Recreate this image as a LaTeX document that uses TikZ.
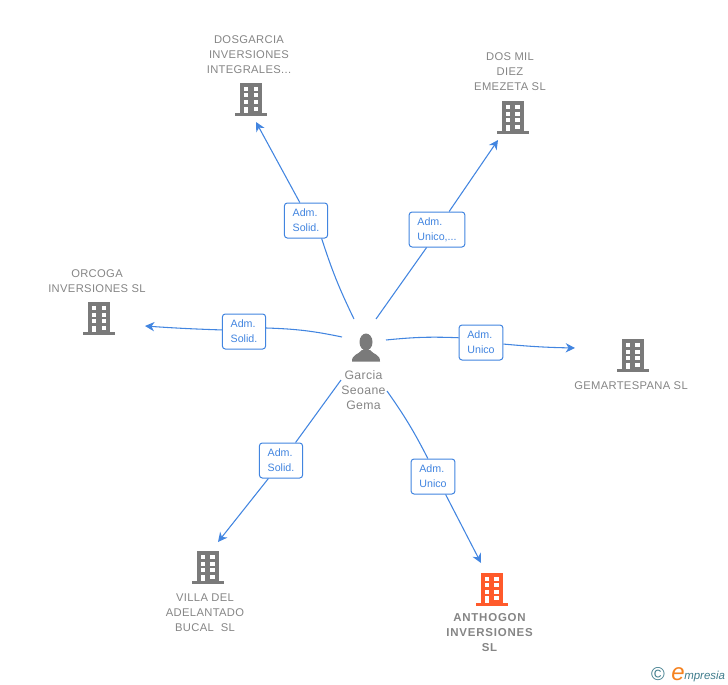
\documentclass[tikz,border=0pt]{standalone}
\usepackage{fontspec}
\setmainfont{Liberation Sans}
\usetikzlibrary{arrows.meta}
\definecolor{linkblue}{HTML}{4285E0}
\definecolor{iconGray}{HTML}{7A7A7A}
\definecolor{textGray}{HTML}{858585}
\definecolor{iconOrange}{HTML}{FF5A2B}
\definecolor{logoTeal}{HTML}{3F7C8C}
\definecolor{logoOrange}{HTML}{F58220}
\tikzset{
  building/.pic={
    \fill[pic actions] (-10.5,-17) rectangle (11.5,13);
    \fill[pic actions] (-15.5,13) rectangle (16.5,16);
    \foreach \rowy in {-13,-6.5,0}{
      \fill[white] (-6.5,\rowy) rectangle (-2.5,\rowy+4);
      \fill[white] (3,\rowy) rectangle (7.5,\rowy+4);
    }
    \fill[white] (-6.5,6.5) rectangle (-2.5,13);
    \fill[white] (3,6.5) rectangle (7.5,10.5);
  }
}
\begin{document}
\begin{tikzpicture}[x=0.75pt,y=-0.75pt,
  company/.style={align=center,text=textGray,inner sep=0pt,font=\fontsize{8.4}{11.25}\selectfont\addfontfeatures{LetterSpace=3}},
  companyB/.style={company,font=\fontsize{8.6}{11.25}\selectfont\bfseries\addfontfeatures{LetterSpace=7}},
  personname/.style={company,font=\fontsize{9.2}{11.25}\selectfont\addfontfeatures{LetterSpace=3}},
  role/.style={draw=linkblue,fill=white,rounded corners=2.2pt,line width=0.75pt,text=linkblue,align=left,inner xsep=6.2pt,inner ysep=0pt,minimum height=26.25pt,font=\fontsize{8}{11.25}\selectfont},
  link/.style={draw=linkblue,line width=0.8pt},
  arrowlink/.style={link,-{Stealth[length=7pt,width=7pt,inset=2.2pt]}}]
\useasboundingbox (0,0) rectangle (728,685);

% person
\fill[iconGray] (366,342) ellipse (6.5 and 8.5);
\fill[iconGray] (352,361.5) .. controls (352,354) and (358,355) .. (362,350) -- (370,350) .. controls (374,355) and (380,354) .. (380,361.5) -- cycle;
\node[personname] (person) at (363.5,390) {Garcia\\Seoane\\Gema};

% companies
\pic[iconGray] at (250.5,100) {building};
\node[company] (dosgarcia) at (249,54.5) {DOSGARCIA\\INVERSIONES\\INTEGRALES...};
\pic[iconGray] at (512,118) {building};
\node[company] (dosmil) at (510,72) {DOS MIL\\DIEZ\\EMEZETA SL};
\pic[iconGray] at (632,356) {building};
\node[company] (gemartespana) at (631,386) {GEMARTESPANA SL};
\pic[iconGray] at (98.5,319) {building};
\node[company] (orcoga) at (97,281) {ORCOGA\\INVERSIONES SL};
\pic[iconGray] at (207,568) {building};
\node[company] (villa) at (205,612.5) {VILLA DEL\\ADELANTADO\\BUCAL\ \ SL};
\pic[iconOrange] at (491,589.5) {building};
\node[companyB] (anthogon) at (489.5,632.5) {ANTHOGON\\INVERSIONES\\SL};

% ends of the connectors
\coordinate (p1) at (354,319);
\coordinate (p2) at (376,319);
\coordinate (p3) at (386,340);
\coordinate (p4) at (387,391);
\coordinate (p5) at (341,380);
\coordinate (p6) at (342,337);
\coordinate (c1) at (256,122);
\coordinate (c2) at (498,140);
\coordinate (c3) at (575,348);
\coordinate (c4) at (481,563);
\coordinate (c5) at (218,542);
\coordinate (c6) at (145,326);

% roles
\node[role] (r1) at (306,220.5) {Adm.\\Solid.};
\node[role] (r2) at (437,229.5) {Adm.\\Unico,...};
\node[role] (r3) at (481,342.5) {Adm.\\Unico};
\node[role] (r4) at (433,476.5) {Adm.\\Unico};
\node[role] (r5) at (281,460.5) {Adm.\\Solid.};
\node[role] (r6) at (244,331.5) {Adm.\\Solid.};

\draw[link] (p1) to[bend left=4] (r1.-49);
\draw[arrowlink] (r1.109) -- (c1);
\draw[link] (p2) -- (r2.240);
\draw[arrowlink] (r2.56) -- (c2);
\draw[link] (p3) to[bend left=4] (r3.168);
\draw[arrowlink] (r3.-4) to[bend right=2] (c3);
\draw[link] (p4) to[bend left=4] (r4.106);
\draw[arrowlink] (r4.-55) -- (c4);
\draw[link] (p5) -- (r5.51);
\draw[arrowlink] (r5.-125) -- (c5);
\draw[link] (p6) to[bend right=5] (r6.9);
\draw[arrowlink] (r6.176) to[bend left=1] (c6);

% logo
\node[inner sep=0pt,text=logoTeal,font=\fontsize{14}{14}\selectfont] (copyr) at (658,674) {\textcopyright};
\node[inner sep=0pt,anchor=base west,text=logoOrange,font=\fontsize{18}{18}\selectfont\itshape] (logoe) at (671,680) {e};
\node[inner sep=0pt,anchor=base west,text=logoTeal,font=\fontsize{8.6}{10}\selectfont\itshape] (logot) at (684,679) {mpresia};
\end{tikzpicture}
\end{document}
